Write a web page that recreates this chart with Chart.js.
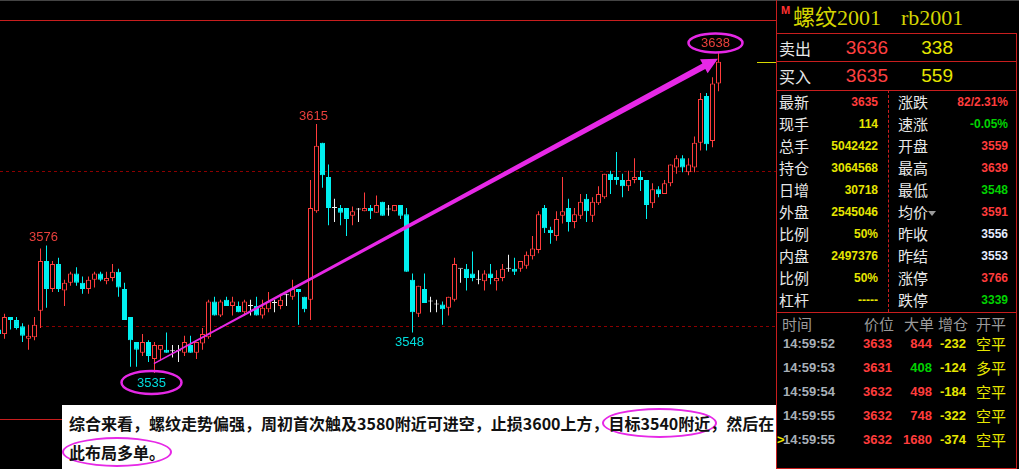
<!DOCTYPE html>
<html>
<head>
<meta charset="utf-8">
<script src="https://cdn.jsdelivr.net/npm/chart.js@4.4.1/dist/chart.umd.min.js"></script>
<style>
html, body { margin: 0; padding: 0; background: #000; }
body { width: 1019px; height: 469px; position: relative; overflow: hidden; font-family: "Liberation Sans", Arial, sans-serif; }
#kline { position: absolute; left: 0; top: 0; }
.topbar { position: absolute; left: 0; top: 0; width: 1019px; height: 1px; background: #444; }
.hl { position: absolute; height: 1px; background: #c81e1e; }
.vl { position: absolute; width: 1px; background: #c81e1e; }
.vdash { position: absolute; width: 0; border-left: 1px dashed #c81e1e; }
.t { position: absolute; white-space: nowrap; height: 20px; line-height: 20px; }
.tri { position: absolute; width: 0; height: 0; border-left: 4px solid transparent; border-right: 4px solid transparent; border-top: 5px solid #9a9a9a; }
#note {
    position: absolute; left: 62px; top: 405px; width: 714px; height: 64px;
    box-sizing: border-box; padding: 4px 0 0 7px; background: #fff; color: #111;
    font: bold 16px "Noto Sans CJK SC", sans-serif; line-height: 29px; white-space: nowrap;
}
.ring { border: 2px solid #e628e6; border-radius: 50%; padding: 1px 5px; margin: 0 -7px; }
</style>
</head>
<body>
<div class="topbar"></div>
<canvas id="kline" width="776" height="469"></canvas>
<div id="note">综合来看，螺纹走势偏强，周初首次触及3580附近可进空，止损3600上方，<span class="ring">目标3540附近</span>，然后在<br><span class="ring">此布局多单。</span></div>
<script>
// Candle positions start one slot left of the visible area
const FIRST_POS = -1;

// OHLC, one entry per candle
const opens = [
    3549, 3547.5, 3553, 3552, 3550, 3546, 3546.5, 3555, 3571, 3562,
    3570, 3561.5, 3564, 3567, 3564, 3562, 3565, 3567, 3564.5, 3565.5,
    3567.5, 3562, 3553, 3545, 3541.5, 3545, 3539.5, 3542.5, 3542.5, 3542,
    3542, 3541.5, 3544, 3541.5, 3544.5, 3546.5, 3558, 3553.5, 3558.5, 3556.5,
    3556.5, 3554.5, 3556.5, 3556.5, 3553.5, 3555.5, 3557.5, 3556.5, 3560, 3559.5,
    3562, 3559.5, 3558.5, 3587, 3609, 3598, 3588, 3588, 3588, 3585.5,
    3587.5, 3587, 3588, 3586.5, 3590, 3587.5, 3587, 3589, 3586, 3565,
    3554, 3562, 3558, 3557, 3557, 3556, 3558.5, 3568.5, 3568.5, 3567,
    3565, 3564.5, 3567, 3564.5, 3565.5, 3568.5, 3568.5, 3568.5, 3569.5, 3572.5,
    3574.5, 3588, 3581, 3579, 3585.5, 3588, 3583.5, 3585.5, 3591, 3585.5,
    3589.5, 3591.5, 3599, 3598, 3597, 3595, 3597, 3598, 3597, 3589.5,
    3594, 3592.5, 3596, 3601, 3604, 3599.5, 3601, 3609, 3624, 3609.5,
    3628
];
const highs = [
    3550, 3554, 3553, 3553, 3551, 3550.5, 3553, 3575, 3576, 3571,
    3572, 3565, 3567.5, 3569, 3566, 3566, 3567.5, 3567.5, 3567.5, 3570,
    3568.5, 3564, 3553, 3545, 3547.5, 3545.5, 3545, 3544, 3548, 3544,
    3544, 3547, 3547, 3545, 3549.5, 3558.5, 3559.5, 3558.5, 3559.5, 3559.5,
    3558, 3558.5, 3558.5, 3559.5, 3558.5, 3561, 3558.5, 3560.5, 3560.5, 3565,
    3562, 3559.5, 3597, 3615, 3609, 3602, 3591, 3589, 3588, 3588.5,
    3588, 3593, 3589, 3592, 3590, 3589, 3589, 3589, 3588, 3567,
    3563, 3567, 3559.5, 3558.5, 3558, 3559.5, 3572, 3568.5, 3570, 3574,
    3568, 3568, 3570, 3568, 3570, 3573, 3572, 3571, 3574, 3579,
    3587, 3589, 3582, 3587, 3598, 3591, 3588, 3592.5, 3592.5, 3591.5,
    3595, 3599, 3600, 3606, 3599, 3600, 3604, 3600, 3597, 3596,
    3595, 3597, 3602, 3605, 3605, 3604, 3611, 3625, 3625, 3630,
    3638
];
const lows = [
    3546, 3546, 3549, 3549, 3545, 3542.5, 3545.5, 3549.5, 3556, 3561,
    3561, 3556.5, 3563, 3563, 3560.5, 3560.5, 3562.5, 3564.5, 3563.5, 3564.5,
    3559.5, 3552, 3537, 3537, 3540.5, 3538.5, 3535, 3539, 3541.5, 3540,
    3538.5, 3540.5, 3541.5, 3539.5, 3542.5, 3546, 3553.5, 3553, 3556.5, 3553.5,
    3554.5, 3553.5, 3553.5, 3553.5, 3552.5, 3554.5, 3554.5, 3555.5, 3556.5, 3558.5,
    3550.5, 3554.5, 3552, 3586.5, 3594.5, 3582.5, 3583.5, 3582.5, 3579, 3582.5,
    3583.5, 3587, 3584.5, 3586.5, 3585.5, 3585.5, 3587, 3584.5, 3567.5, 3548,
    3553, 3557.5, 3554.5, 3554.5, 3550.5, 3553.5, 3558, 3564, 3561.5, 3564.5,
    3563.5, 3561.5, 3563.5, 3561.5, 3564.5, 3567.5, 3566.5, 3567.5, 3568.5, 3571.5,
    3573.5, 3580, 3576.5, 3577.5, 3583, 3580.5, 3581.5, 3584.5, 3583.5, 3583.5,
    3589, 3591, 3592.5, 3595.5, 3591.5, 3593.5, 3596, 3593.5, 3584.5, 3588,
    3591.5, 3592.5, 3595, 3599, 3599.5, 3598.5, 3599.5, 3606.5, 3606.5, 3607.5,
    3625.5
];
const closes = [
    3547.5, 3553, 3552, 3549.5, 3547, 3547, 3550.5, 3571, 3562, 3570,
    3562, 3564, 3567, 3564, 3562, 3565, 3567, 3565, 3565.5, 3567.5,
    3562.5, 3552, 3545.5, 3542.5, 3545, 3540.5, 3544, 3544, 3541.5, 3542,
    3542, 3545, 3541.5, 3545, 3547.5, 3558, 3553.5, 3558, 3556.5, 3558,
    3554.5, 3558, 3556.5, 3553.5, 3556, 3558, 3557.5, 3558.5, 3560, 3562,
    3561, 3555.5, 3588, 3608, 3598.5, 3588, 3588, 3586.5, 3584.5, 3587,
    3587.5, 3588, 3587, 3589, 3585.5, 3587.5, 3589, 3585.5, 3567.5, 3554.5,
    3563, 3557.5, 3558, 3557, 3555.5, 3559.5, 3570, 3568.5, 3565.5, 3565.5,
    3565, 3567, 3565.5, 3565.5, 3568.5, 3568.5, 3567.5, 3571, 3573, 3575,
    3586, 3581.5, 3580, 3584.5, 3587, 3583.5, 3586, 3590, 3587, 3590,
    3592.5, 3599, 3597, 3597, 3595, 3597, 3598, 3597, 3589, 3594,
    3592.5, 3596, 3602, 3604, 3601, 3602, 3609, 3623, 3608.5, 3628,
    3635
];

// Dashed reference prices
const GRID_PRICES = [3600, 3550];

// Marked extremes (candle position, which end); ringed ones get an ellipse
const MARKS = [
    { pos: 7, side: 'high', ring: false },
    { pos: 52, side: 'high', ring: false },
    { pos: 68, side: 'low', ring: false },
    { pos: 25, side: 'low', ring: true },
    { pos: 119, side: 'high', ring: true }
];

// Trend arrow (candle position, price)
const ARROW_FROM = [24.9, 3538];
const ARROW_TO = [118.9, 3636];

// Quote panel
const TITLE_NAME = '螺纹2001';
const TITLE_CODE = 'rb2001';
const ASK = ['卖出', '3636', '338'];
const BID = ['买入', '3635', '559'];
const QUOTE_LEFT = [
    ['最新', '3635', 'up'], ['现手', '114', 'vol'], ['总手', '5042422', 'vol'],
    ['持仓', '3064568', 'vol'], ['日增', '30718', 'vol'], ['外盘', '2545046', 'vol'],
    ['比例', '50%', 'vol'], ['内盘', '2497376', 'vol'], ['比例', '50%', 'vol'], ['杠杆', '-----', 'vol']
];
const QUOTE_RIGHT = [
    ['涨跌', '82/2.31%', 'up'], ['速涨', '-0.05%', 'down'], ['开盘', '3559', 'up'],
    ['最高', '3639', 'up'], ['最低', '3548', 'down'], ['均价', '3591', 'up'],
    ['昨收', '3556', 'flat'], ['昨结', '3553', 'flat'], ['涨停', '3766', 'up'], ['跌停', '3339', 'down']
];
const TICK_HEAD = ['时间', '价位', '大单', '增仓', '开平'];
const TICKS = [
    ['14:59:52', '3633', '844', '-232', '空平', 'up'],
    ['14:59:53', '3631', '408', '-124', '多平', 'down'],
    ['14:59:54', '3632', '498', '-184', '空平', 'up'],
    ['14:59:55', '3632', '748', '-322', '空平', 'up'],
    ['14:59:55', '3632', '1680', '-374', '空平', 'up']
];

const COLORS = {
    up: '#ff3c3c',
    down: '#00f0f0',
    flat: '#f0f0f0',
    grid: '#8c0000',
    frame: '#c81e1e',
    arrow: '#e628e6',
    last: '#d8d800',
    upText: '#e8403c',
    downText: '#00dede'
};

const TEXT_COLORS = { up: '#ff3c3c', down: '#00d200', vol: '#e6e600', flat: '#e4ecff' };

function candleColor(i) {
    if (closes[i] > opens[i]) return COLORS.up;
    if (closes[i] < opens[i]) return COLORS.down;
    return COLORS.flat;
}

// Trend arrow: tapered shaft plus head
function drawArrow(ctx, x0, y0, x1, y1) {
    const len = Math.hypot(x1 - x0, y1 - y0);
    const ux = (x1 - x0) / len, uy = (y1 - y0) / len;
    const nx = -uy, ny = ux;
    const headLen = 16, headHalf = 8;
    const bx = x1 - ux * headLen, by = y1 - uy * headLen;
    const w0 = 0.7, w1 = 3.1;
    ctx.beginPath();
    ctx.moveTo(x0 + nx * w0, y0 + ny * w0);
    ctx.lineTo(bx + nx * w1, by + ny * w1);
    ctx.lineTo(bx + nx * headHalf, by + ny * headHalf);
    ctx.lineTo(x1, y1);
    ctx.lineTo(bx - nx * headHalf, by - ny * headHalf);
    ctx.lineTo(bx - nx * w1, by - ny * w1);
    ctx.lineTo(x0 - nx * w0, y0 - ny * w0);
    ctx.closePath();
    ctx.fill();
}

const annotations = {
    id: 'annotations',
    beforeDatasetsDraw(chart) {
        const { ctx, chartArea: a, scales: { y } } = chart;
        ctx.save();
        ctx.strokeStyle = COLORS.grid;
        ctx.lineWidth = 1;
        ctx.setLineDash([3, 3]);
        GRID_PRICES.forEach((p, k) => {
            const py = Math.round(y.getPixelForValue(p)) + 0.5;
            ctx.beginPath();
            ctx.moveTo(k === 1 ? 40 : a.left, py);
            ctx.lineTo(a.right, py);
            ctx.stroke();
        });
        ctx.setLineDash([]);
        ctx.strokeStyle = COLORS.frame;
        ctx.beginPath();
        ctx.moveTo(a.left, 20.5);
        ctx.lineTo(a.right, 20.5);
        ctx.moveTo(a.left, 419.5);
        ctx.lineTo(a.right, 419.5);
        ctx.stroke();
        ctx.restore();
    },
    afterDatasetsDraw(chart) {
        const { ctx, chartArea: a, scales: { x, y } } = chart;
        ctx.save();

        // Last price marker
        const ly = Math.round(y.getPixelForValue(closes[closes.length - 1])) + 0.5;
        ctx.strokeStyle = COLORS.last;
        ctx.lineWidth = 1;
        ctx.beginPath();
        ctx.moveTo(a.right - 19, ly);
        ctx.lineTo(a.right, ly);
        ctx.stroke();

        // Trend arrow
        ctx.fillStyle = COLORS.arrow;
        drawArrow(ctx,
            x.getPixelForValue(ARROW_FROM[0]), y.getPixelForValue(ARROW_FROM[1]),
            x.getPixelForValue(ARROW_TO[0]), y.getPixelForValue(ARROW_TO[1]));

        // High / low labels
        ctx.font = '13px "Liberation Sans", Arial, sans-serif';
        ctx.textAlign = 'center';
        ctx.textBaseline = 'middle';
        MARKS.forEach(m => {
            const i = m.pos - FIRST_POS;
            const isHigh = m.side === 'high';
            const v = isHigh ? highs[i] : lows[i];
            const px = x.getPixelForValue(m.pos) - 3;
            const gap = m.ring ? 9.5 : 8.5;
            const py = y.getPixelForValue(v) + (isHigh ? -gap : gap);
            ctx.fillStyle = isHigh ? COLORS.upText : COLORS.downText;
            ctx.fillText(String(v), px, py + 1);
            if (m.ring) {
                ctx.strokeStyle = COLORS.arrow;
                ctx.lineWidth = 2.5;
                ctx.beginPath();
                ctx.ellipse(px, py, isHigh ? 27 : 30, isHigh ? 9.5 : 11.5, 0, 0, Math.PI * 2);
                ctx.stroke();
            }
        });
        ctx.restore();
    }
};

const positions = opens.map((_, i) => FIRST_POS + i);

new Chart(document.getElementById('kline'), {
    type: 'bar',
    data: {
        datasets: [
            {
                label: 'body',
                data: positions.map((p, i) => ({ x: p, y: [opens[i], closes[i]] })),
                grouped: false,
                barPercentage: 5 / 6,
                categoryPercentage: 1,
                maxBarThickness: 5,
                minBarLength: 1,
                borderWidth: 1,
                borderSkipped: false,
                borderColor: positions.map((_, i) => candleColor(i)),
                backgroundColor: positions.map((_, i) => closes[i] > opens[i] ? '#000' : candleColor(i))
            },
            {
                label: 'wick',
                data: positions.map((p, i) => ({ x: p, y: [lows[i], highs[i]] })),
                grouped: false,
                barPercentage: 1 / 6,
                categoryPercentage: 1,
                maxBarThickness: 1,
                minBarLength: 1,
                borderWidth: 0,
                backgroundColor: positions.map((_, i) => candleColor(i))
            }
        ]
    },
    options: {
        responsive: false,
        animation: false,
        devicePixelRatio: 1,
        layout: { padding: 0 },
        plugins: { legend: { display: false }, tooltip: { enabled: false } },
        scales: {
            x: { type: 'linear', display: false, offset: false, min: -0.75, max: 128.5833 },
            y: { type: 'linear', display: false, min: 3504.16, max: 3654.84 }
        }
    },
    plugins: [annotations]
});

// Quote panel, placed as plain text blocks
function put(text, pos, cy, font, color, alignRight) {
    const el = document.createElement('div');
    el.className = 't';
    el.textContent = text;
    el.style.top = (cy - 10) + 'px';
    if (alignRight) el.style.right = (1019 - pos) + 'px';
    else el.style.left = pos + 'px';
    el.style.font = font;
    el.style.lineHeight = '20px';
    el.style.color = color;
    document.body.appendChild(el);
    return el;
}
function line(cls, left, top, w, h) {
    const el = document.createElement('div');
    el.className = cls;
    el.style.left = left + 'px';
    el.style.top = top + 'px';
    if (w) el.style.width = w + 'px';
    if (h) el.style.height = h + 'px';
    document.body.appendChild(el);
}

const CN = '"Noto Sans CJK SC", sans-serif';
const LABEL_FONT = '15px ' + CN;
const VALUE_FONT = 'bold 12px "Liberation Sans", Arial, sans-serif';
const BIG_FONT = '19px "Liberation Sans", Arial, sans-serif';
const TICK_FONT = 'bold 13px "Liberation Sans", Arial, sans-serif';

// Frame lines
line('vl', 776, 0, null, 469);
line('vl', 1016, 33, null, 436);
[33, 61, 90, 312, 468].forEach(t => line('hl', 776, t, 241));
line('vdash', 888, 90, null, 222);

// Header
put('M', 781, 10, 'bold 11px "Liberation Sans", Arial, sans-serif', '#ff3030');
put(TITLE_NAME, 793, 18, '22px "Liberation Serif", "Noto Sans CJK SC", serif', '#d4d400');
put(TITLE_CODE, 901, 18, '22px "Liberation Serif", serif', '#d4d400');

// Ask / bid
[[ASK, 48], [BID, 76]].forEach(([row, cy]) => {
    put(row[0], 779, cy, '16px ' + CN, '#e8e8e8');
    put(row[1], 888, cy, BIG_FONT, '#ff4040', true);
    put(row[2], 953, cy, BIG_FONT, '#e6e600', true);
});

// Quote grid
QUOTE_LEFT.forEach((r, k) => {
    const cy = 102 + 22 * k;
    put(r[0], 779, cy, LABEL_FONT, '#e8e8e8');
    put(r[1], 878, cy, VALUE_FONT, TEXT_COLORS[r[2]], true);
});
QUOTE_RIGHT.forEach((r, k) => {
    const cy = 102 + 22 * k;
    put(r[0], 898, cy, LABEL_FONT, '#e8e8e8');
    put(r[1], 1008, cy, VALUE_FONT, TEXT_COLORS[r[2]], true);
});
const tri = document.createElement('div');
tri.className = 'tri';
tri.style.left = '928px';
tri.style.top = '211px';
document.body.appendChild(tri);

// Tick table
const headX = [782, 864, 904, 938, 976];
TICK_HEAD.forEach((h, k) => put(h, headX[k], 324, LABEL_FONT, '#9a9a9a'));
TICKS.forEach((r, k) => {
    const cy = 344 + 24 * k;
    if (k === TICKS.length - 1) put('>', 777, cy, TICK_FONT, '#e6e600');
    put(r[0], 783, cy, TICK_FONT, '#a8b0b8');
    put(r[1], 892, cy, TICK_FONT, '#ff3c3c', true);
    put(r[2], 932, cy, TICK_FONT, TEXT_COLORS[r[5]], true);
    put(r[3], 966, cy, TICK_FONT, '#e6e600', true);
    put(r[4], 976, cy, LABEL_FONT, '#e6e600');
});
</script>
</body>
</html>
